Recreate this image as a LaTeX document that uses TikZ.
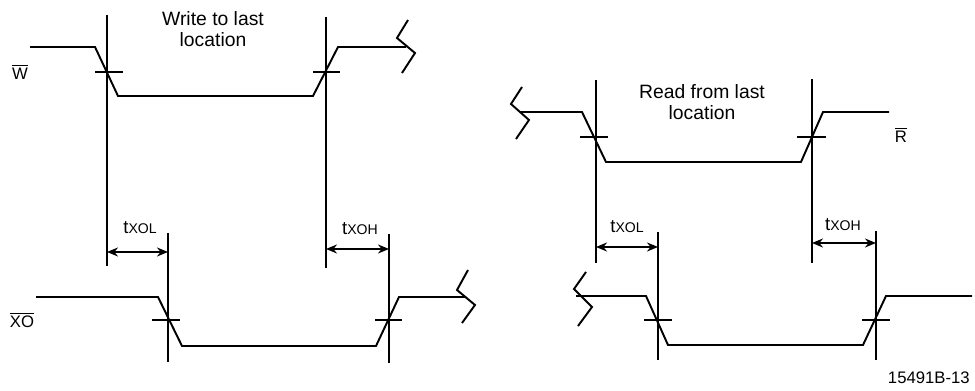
\documentclass[tikz,border=0pt]{standalone}
\usepackage{fontspec}
\setmainfont{Liberation Sans}
\usetikzlibrary{arrows.meta}
\newcommand{\ovl}[1]{$\overline{\hbox{#1}}$}
\newcommand{\tlabel}[1]{{\fontsize{10.5}{11}\selectfont t}{\fontsize{8}{9}\selectfont X#1}}

\begin{document}
\begin{tikzpicture}[x=0.02cm, y=-0.02cm,
  font=\fontsize{9.5}{12}\selectfont,
  wave/.style={line width=1.1pt, line join=miter},
  guide/.style={line width=1.3pt},
  cross/.style={line width=0.9pt},
  dim/.style={{Stealth[length=2.2mm,width=1.8mm]}-{Stealth[length=2.2mm,width=1.8mm]}, line width=1.1pt},
  lbl/.style={inner sep=0pt, align=center},
  note/.style={lbl, font=\fontsize{11}{12}\selectfont}]
  \useasboundingbox (0,0) rectangle (975,391);

  % --- left half: write ---
  \draw[wave] (30,47) -- (95,47) -- (118,96) -- (313,96) -- (338,47) -- (406,47);
  \draw[wave] (408,20) -- (397,38) -- (415,53) -- (402,73);
  \draw[wave] (36,297) -- (158,297) -- (182,346) -- (376,346) -- (399,297) -- (466,297);
  \draw[wave] (468,270) -- (457,290) -- (475,305) -- (462,323);

  \coordinate (w1) at (107,252);  \coordinate (x1) at (168,252);
  \coordinate (w2) at (326,249);  \coordinate (x2) at (389,249);
  \draw[guide] (107,15) -- (107,266);
  \draw[guide] (326,17) -- (326,268);
  \draw[guide] (168,233) -- (168,362);
  \draw[guide] (389,234) -- (389,363);
  \draw[cross] (95,72) -- (123,72);
  \draw[cross] (313,72) -- (340,72);
  \draw[cross] (152,320) -- (180,320);
  \draw[cross] (375,320) -- (402,320);
  \draw[dim] (w1) -- (x1);
  \draw[dim] (w2) -- (x2);

  \node[lbl] (wlbl)  at (20,72)   {\ovl{W}};
  \node[lbl] (xolbl) at (22,320)  {\ovl{XO}};
  \node[note] (wtxt) at (213,29)  {Write to last\\location};
  \node[lbl] (tol1)  at (140,228) {\tlabel{OL}};
  \node[lbl] (toh1)  at (360,229) {\tlabel{OH}};

  % --- right half: read ---
  \draw[wave] (520,112) -- (582,112) -- (606,162) -- (801,162) -- (823,112) -- (889,112);
  \draw[wave] (522,87) -- (511,104) -- (529,120) -- (516,139);
  \draw[wave] (576,296) -- (646,296) -- (668,345) -- (863,345) -- (886,296) -- (972,296);
  \draw[wave] (586,272) -- (574,289) -- (592,307) -- (578,326);

  \coordinate (r1) at (596,247);  \coordinate (y1) at (658,247);
  \coordinate (r2) at (812,243);  \coordinate (y2) at (876,243);
  \draw[guide] (596,80) -- (596,263);
  \draw[guide] (812,79) -- (812,263);
  \draw[guide] (658,232) -- (658,360);
  \draw[guide] (876,231) -- (876,360);
  \draw[cross] (580,137) -- (608,137);
  \draw[cross] (797,137) -- (826,137);
  \draw[cross] (644,320) -- (672,320);
  \draw[cross] (862,320) -- (890,320);
  \draw[dim] (r1) -- (y1);
  \draw[dim] (r2) -- (y2);

  \node[lbl] (rlbl) at (901,135) {\ovl{R}};
  \node[note] (rtxt) at (702,102) {Read from last\\location};
  \node[lbl] (tol2) at (627,227) {\tlabel{OL}};
  \node[lbl] (toh2) at (843,225) {\tlabel{OH}};
  \node[lbl, anchor=east] (fig) at (970,378) {15491B-13};
\end{tikzpicture}
\end{document}
